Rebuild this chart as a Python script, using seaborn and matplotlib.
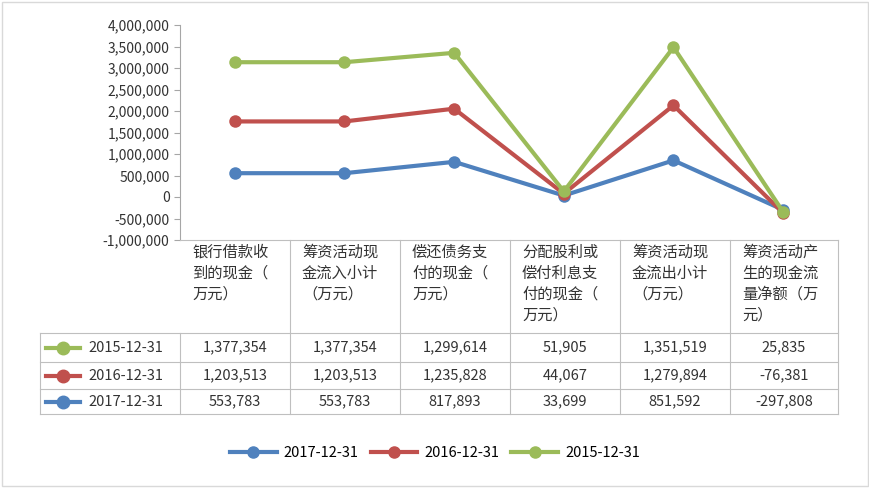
import numpy as np
import pandas as pd
import matplotlib.pyplot as plt
import seaborn as sns
from matplotlib.lines import Line2D

plt.rcParams['font.family'] = 'Noto Sans CJK SC'

categories = ['银行借款收\n到的现金（\n万元）', '筹资活动现\n金流入小计\n（万元）', '偿还债务支\n付的现金（\n万元）',
              '分配股利或\n偿付利息支\n付的现金（\n万元）', '筹资活动现\n金流出小计\n（万元）', '筹资活动产\n生的现金流\n量净额（万\n元）']
v2017 = [553783, 553783, 817893, 33699, 851592, -297808]
v2016 = [1203513, 1203513, 1235828, 44067, 1279894, -76381]
v2015 = [1377354, 1377354, 1299614, 51905, 1351519, 25835]
series = ['2017-12-31', '2016-12-31', '2015-12-31']
colors = ['#4f81bd', '#c0504d', '#9bbb59']

# stacked line chart: each series sits on top of the previous one
stack = np.cumsum([v2017, v2016, v2015], axis=0)
rows = []
for name, vals in zip(series, stack):
    for i, v in enumerate(vals):
        rows.append({'x': i, 'y': v, 's': name})
df = pd.DataFrame(rows)

fig = plt.figure(figsize=(8.7, 4.88), dpi=100)
W, H = 870, 488
ax = fig.add_axes([180/W, 1-240/H, 658/W, 215/H])
sns.lineplot(data=df, x='x', y='y', hue='s', palette=colors, marker='o', markersize=9,
             markeredgewidth=0, linewidth=3, ax=ax, legend=False)
ax.set_xlim(-0.5, 5.5)
ax.set_ylim(-1000000, 4000000)
ax.set_yticks(np.arange(-1000000, 4000001, 500000))
ax.set_yticklabels([f'{t:,}' for t in range(-1000000, 4000001, 500000)], fontsize=10, color='#333333')
ax.set_xticks([])
ax.set_xlabel(''); ax.set_ylabel('')
for s in ['top', 'right', 'bottom']:
    ax.spines[s].set_visible(False)
ax.spines['left'].set_color('#a6a6a6')
ax.tick_params(axis='y', length=4, color='#a6a6a6')

# data table
tx = fig.add_axes([40/W, 1-414/H, 798/W, 174/H])
tx.set_xlim(40, 838); tx.set_ylim(414, 240); tx.axis('off')
lc = '#bfbfbf'
cols = [180, 290, 400, 510, 620, 730, 838]
hy = [240, 333, 362, 389, 414]
for c in cols:
    tx.plot([c, c], [240 if c > 180 else 333, 414], color=lc, lw=0.8, clip_on=False)
tx.plot([40, 40], [333, 414], color=lc, lw=0.8, clip_on=False)
tx.plot([180, 838], [240, 240], color=lc, lw=0.8, clip_on=False)
for y in hy[1:]:
    tx.plot([40, 838], [y, y], color=lc, lw=0.8, clip_on=False)
for i, c in enumerate(categories):
    tx.text(cols[i] + 12, 244, c, fontsize=11, va='top', ha='left', linespacing=1.3, color='#333333')
table_rows = [('2015-12-31', v2015, colors[2]), ('2016-12-31', v2016, colors[1]), ('2017-12-31', v2017, colors[0])]
for r, (name, vals, col) in enumerate(table_rows):
    yc = (hy[r+1] + hy[r+2]) / 2
    tx.plot([46, 80], [yc, yc], color=col, lw=3)
    tx.plot([63], [yc], 'o', color=col, ms=9)
    tx.text(88, yc, name, fontsize=10.5, va='center', color='#333333')
    for i, v in enumerate(vals):
        tx.text((cols[i] + cols[i+1]) / 2, yc, f'{v:,}', fontsize=10.5, va='center', ha='center', color='#333333')

# legend
handles = [Line2D([], [], color=c, lw=3, marker='o', ms=8) for c in colors]
fig.legend(handles, series, loc='center', bbox_to_anchor=(0.5, 1-453/H), ncol=3, frameon=False,
           fontsize=10.5, handlelength=3.2, columnspacing=0.8, handletextpad=0.5)

fig.patches.append(plt.Rectangle((2/W, 2/H), 1-4/W, 1-4/H, transform=fig.transFigure,
                                 fill=False, edgecolor='#d9d9d9', lw=1))
fig.savefig('out.png', dpi=100)
